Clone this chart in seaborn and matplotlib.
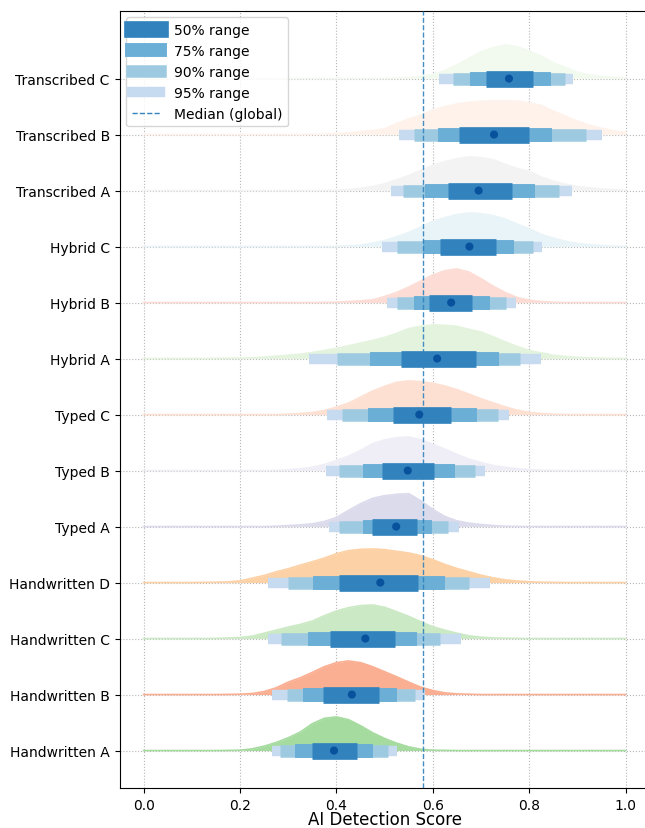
import numpy as np
import pandas as pd
import matplotlib
matplotlib.use("Agg")
import matplotlib.pyplot as plt
from matplotlib.lines import Line2D
import seaborn as sns

# Groups, listed bottom to top
categories = [
    "Handwritten A", "Handwritten B", "Handwritten C", "Handwritten D",
    "Typed A", "Typed B", "Typed C",
    "Hybrid A", "Hybrid B", "Hybrid C",
    "Transcribed A", "Transcribed B", "Transcribed C",
]

# Per-group summary of the detection score
medians = [0.395, 0.432, 0.460, 0.491, 0.524, 0.548, 0.572, 0.609, 0.638, 0.676, 0.695, 0.727, 0.758]
q50_lo = [0.350, 0.373, 0.387, 0.406, 0.474, 0.494, 0.517, 0.534, 0.593, 0.614, 0.632, 0.655, 0.710]
q50_hi = [0.442, 0.489, 0.522, 0.569, 0.568, 0.603, 0.638, 0.689, 0.681, 0.731, 0.765, 0.800, 0.808]
q75_lo = [0.315, 0.331, 0.341, 0.352, 0.456, 0.456, 0.465, 0.470, 0.561, 0.580, 0.584, 0.610, 0.677]
q75_hi = [0.475, 0.526, 0.567, 0.626, 0.598, 0.645, 0.692, 0.738, 0.718, 0.769, 0.811, 0.847, 0.845]
q90_lo = [0.282, 0.298, 0.286, 0.299, 0.406, 0.406, 0.412, 0.401, 0.526, 0.525, 0.538, 0.560, 0.642]
q90_hi = [0.508, 0.563, 0.615, 0.676, 0.632, 0.687, 0.735, 0.780, 0.751, 0.807, 0.861, 0.918, 0.875]
q95_lo = [0.266, 0.266, 0.259, 0.259, 0.384, 0.379, 0.381, 0.344, 0.504, 0.495, 0.513, 0.530, 0.613]
q95_hi = [0.525, 0.584, 0.659, 0.718, 0.654, 0.708, 0.758, 0.825, 0.772, 0.827, 0.889, 0.950, 0.890]

global_median = 0.58

ridge_colors = [
    "#a6dba0", "#faaf93", "#cbe9c4", "#fdd1a6",
    "#dcdbec", "#efeef6", "#fde0d2",
    "#e3f3dd", "#fcdcd5", "#e9f4f8",
    "#f3f3f3", "#fef2eb", "#f2f9ef",
]

# Relative density of scores on a 0..1 grid with step 0.025 (peak = 1)
densities = {
    "Handwritten A": [0, 0, 0, 0, 0, 0, 0, 0.005,
                      0.01, 0.05, 0.13, 0.24, 0.38, 0.55, 0.80, 0.96,
                      1.0, 0.92, 0.74, 0.53, 0.36, 0.22, 0.11, 0.04,
                      0.01, 0.005, 0, 0, 0, 0, 0, 0,
                      0, 0, 0, 0, 0, 0, 0, 0, 0],
    "Handwritten B": [0, 0, 0, 0, 0, 0, 0, 0.005,
                      0.01, 0.03, 0.09, 0.20, 0.37, 0.50, 0.66, 0.83,
                      0.95, 1.0, 0.95, 0.83, 0.68, 0.53, 0.37, 0.22,
                      0.12, 0.05, 0.02, 0.01, 0, 0, 0, 0,
                      0, 0, 0, 0, 0, 0, 0, 0, 0],
    "Handwritten C": [0, 0, 0, 0, 0, 0, 0.005, 0.015,
                      0.03, 0.07, 0.16, 0.25, 0.34, 0.42, 0.52, 0.68,
                      0.82, 0.92, 0.98, 1.0, 0.93, 0.80, 0.66, 0.50,
                      0.35, 0.25, 0.16, 0.08, 0.04, 0.02, 0.01, 0.005,
                      0, 0, 0, 0, 0, 0, 0, 0, 0],
    "Handwritten D": [0, 0, 0, 0, 0, 0.005, 0.01, 0.02,
                      0.05, 0.13, 0.21, 0.32, 0.41, 0.52, 0.62, 0.73,
                      0.86, 0.95, 0.99, 1.0, 0.98, 0.93, 0.88, 0.80,
                      0.68, 0.54, 0.42, 0.32, 0.22, 0.14, 0.08, 0.045,
                      0.025, 0.01, 0.005, 0, 0, 0, 0, 0, 0],
    "Typed A": [0, 0, 0, 0, 0, 0, 0, 0,
                0, 0, 0, 0.01, 0.03, 0.05, 0.08, 0.15,
                0.27, 0.48, 0.68, 0.84, 0.92, 0.96, 0.98, 0.77,
                0.51, 0.30, 0.17, 0.10, 0.06, 0.03, 0.01, 0.005,
                0, 0, 0, 0, 0, 0, 0, 0, 0],
    "Typed B": [0, 0, 0, 0, 0, 0, 0, 0,
                0, 0, 0, 0.005, 0.02, 0.05, 0.10, 0.18,
                0.30, 0.43, 0.60, 0.80, 0.91, 0.98, 1.0, 0.92,
                0.78, 0.64, 0.48, 0.34, 0.24, 0.15, 0.10, 0.055,
                0.03, 0.01, 0.005, 0, 0, 0, 0, 0, 0],
    "Typed C": [0, 0, 0, 0, 0, 0, 0, 0,
                0, 0, 0, 0, 0.01, 0.03, 0.06, 0.12,
                0.22, 0.34, 0.52, 0.70, 0.84, 0.96, 1.0, 0.98,
                0.93, 0.85, 0.74, 0.61, 0.47, 0.35, 0.23, 0.13,
                0.065, 0.03, 0.01, 0, 0, 0, 0, 0, 0],
    "Hybrid A": [0, 0, 0, 0, 0, 0, 0.005, 0.01,
                 0.01, 0.02, 0.04, 0.07, 0.10, 0.13, 0.18, 0.24,
                 0.30, 0.38, 0.46, 0.54, 0.63, 0.75, 0.89, 0.96,
                 1.0, 0.99, 0.96, 0.87, 0.79, 0.65, 0.50, 0.36,
                 0.24, 0.17, 0.10, 0.06, 0.035, 0.02, 0.01, 0.005, 0],
    "Hybrid B": [0, 0, 0, 0, 0, 0, 0, 0,
                 0, 0, 0, 0, 0, 0, 0, 0.005,
                 0.01, 0.03, 0.05, 0.08, 0.18, 0.30, 0.46, 0.64,
                 0.82, 0.95, 1.0, 0.91, 0.71, 0.49, 0.30, 0.15,
                 0.07, 0.03, 0.01, 0, 0, 0, 0, 0, 0],
    "Hybrid C": [0, 0, 0, 0, 0, 0, 0, 0,
                 0, 0, 0, 0, 0, 0, 0, 0,
                 0.005, 0.02, 0.04, 0.10, 0.18, 0.29, 0.42, 0.58,
                 0.75, 0.86, 0.95, 1.0, 0.98, 0.92, 0.82, 0.67,
                 0.53, 0.36, 0.25, 0.16, 0.09, 0.05, 0.03, 0.01, 0.005],
    "Transcribed A": [0, 0, 0, 0, 0, 0, 0, 0,
                      0, 0, 0, 0, 0, 0, 0, 0.005,
                      0.01, 0.03, 0.07, 0.12, 0.20, 0.32, 0.45, 0.60,
                      0.75, 0.86, 0.95, 1.0, 0.98, 0.92, 0.78, 0.66,
                      0.57, 0.40, 0.28, 0.19, 0.12, 0.08, 0.045, 0.025, 0.015],
    "Transcribed B": [0, 0, 0, 0, 0, 0, 0, 0,
                      0, 0, 0, 0, 0, 0, 0.005, 0.01,
                      0.03, 0.05, 0.09, 0.12, 0.17, 0.33, 0.46, 0.58,
                      0.73, 0.83, 0.91, 0.96, 0.99, 1.0, 1.0, 1.0,
                      0.94, 0.87, 0.70, 0.55, 0.40, 0.28, 0.19, 0.11, 0.07],
    "Transcribed C": [0, 0, 0, 0, 0, 0, 0, 0,
                      0, 0, 0, 0, 0, 0, 0, 0,
                      0, 0, 0, 0, 0.005, 0.01, 0.03, 0.06,
                      0.12, 0.24, 0.41, 0.60, 0.80, 0.92, 1.0, 0.95,
                      0.82, 0.67, 0.47, 0.33, 0.19, 0.11, 0.06, 0.035, 0.02],
}
score_grid = np.linspace(0.0, 1.0, 41)

interval_levels = ["95% range", "90% range", "75% range", "50% range"]
interval_colors = {"50% range": "#3182bd", "75% range": "#6baed6",
                   "90% range": "#9ecae1", "95% range": "#c6dbef"}
interval_widths = {"50% range": 12, "75% range": 10,
                   "90% range": 9, "95% range": 7.5}
interval_bounds = {"50% range": (q50_lo, q50_hi), "75% range": (q75_lo, q75_hi),
                   "90% range": (q90_lo, q90_hi), "95% range": (q95_lo, q95_hi)}

ridge_height = 0.6

summary = pd.DataFrame({"group": categories, "pos": np.arange(len(categories)),
                        "median": medians})

fig = plt.figure(figsize=(6.45, 8.29), dpi=100)
ax = fig.add_axes([0.1853, 0.0485, 0.822, 0.9376])
ax.set_axisbelow(True)
ax.grid(True, linestyle=":", color="#b5b5b5", linewidth=0.8)

# density ridges
for i, (cat, col) in enumerate(zip(categories, ridge_colors)):
    d = np.asarray(densities[cat]) * ridge_height
    ax.fill_between(score_grid, i, i + d, color=col, linewidth=0, zorder=1)
    ax.plot(score_grid, i + d, color=col, linewidth=1.2, zorder=1.1)

# nested interval bars, widest first
for level in interval_levels:
    lo, hi = interval_bounds[level]
    ax.hlines(summary["pos"], lo, hi, colors=interval_colors[level],
              linewidth=interval_widths[level], zorder=2)

sns.scatterplot(data=summary, x="median", y="pos", color="#08519c", s=34,
                edgecolor="none", zorder=5, ax=ax, legend=False)

ax.axvline(global_median, color="#3182bd", linestyle="--", linewidth=1.0,
           alpha=0.9, zorder=6)

handles = [Line2D([], [], color=interval_colors[l], linewidth=interval_widths[l])
           for l in ["50% range", "75% range", "90% range", "95% range"]]
handles.append(Line2D([], [], color="#3182bd", linestyle="--", linewidth=1.0))
labels = ["50% range", "75% range", "90% range", "95% range", "Median (global)"]
ax.legend(handles, labels, loc="upper left", fontsize=10, handletextpad=1.0)

ax.set_yticks(summary["pos"])
ax.set_yticklabels(categories, fontsize=10)
ax.set_xticks([0.0, 0.2, 0.4, 0.6, 0.8, 1.0])
ax.tick_params(axis="x", labelsize=10)
ax.set_xlim(-0.05, 1.05)
ax.set_ylim(-0.665, 13.215)
ax.set_xlabel("AI Detection Score", fontsize=12, labelpad=-1)
ax.set_ylabel("")

fig.savefig("out.png", dpi=100)
